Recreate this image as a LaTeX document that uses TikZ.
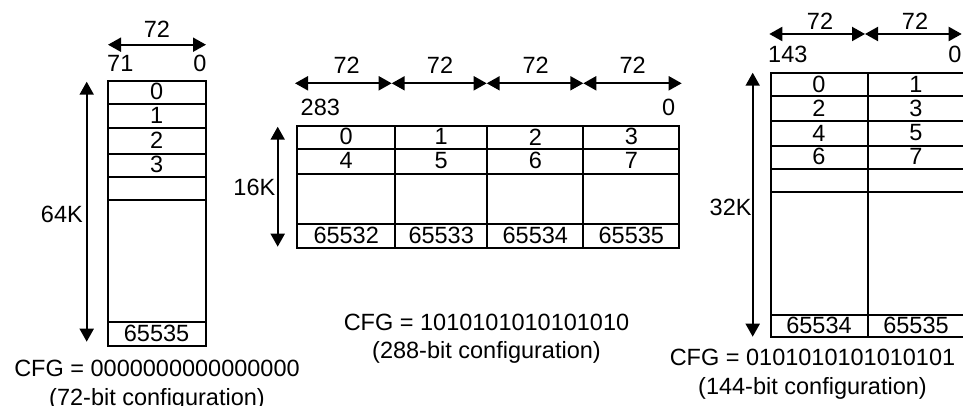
\documentclass[tikz,border=0pt]{standalone}
\usepackage{fontspec}
\setmainfont{Liberation Sans}
\usetikzlibrary{arrows.meta}
\begin{document}
\begin{tikzpicture}[x=1pt,y=-1pt,
  lbl/.style={inner sep=0pt, font=\fontsize{23.5}{28}\selectfont},
  captext/.style={lbl, anchor=base},
  grid/.style={line width=2pt},
  dim/.style={line width=2pt, {Triangle[length=13pt,width=14pt]}-{Triangle[length=13pt,width=14pt]}},
]
\useasboundingbox (0,0) rectangle (963,406);

% ---------------- left table (72-bit) ----------------
\draw[grid] (107.5,80.7) rectangle (205.7,345.7);
\foreach \yy in {103.7,128.3,153.7,176.7,200,322.3}
  \draw[grid] (107.5,\yy) -- (205.7,\yy);
\node[lbl] (l0) at (156.6,91.5) {0};
\node[lbl] (l1) at (156.6,115.5) {1};
\node[lbl] (l2) at (156.6,140.5) {2};
\node[lbl] (l3) at (156.6,164.5) {3};
\node[lbl] (lN) at (156.6,333) {65535};

\coordinate (lhA) at (108,44.7);
\coordinate (lhB) at (206,44.7);
\draw[dim] (lhA) -- (lhB);
\node[lbl] (lw) at (157,29) {72};
\node[lbl,anchor=west] (lmsb) at (107,63.8) {71};
\node[lbl,anchor=east] (llsb) at (206.7,63.8) {0};

\coordinate (lvT) at (86.7,81.7);
\coordinate (lvB) at (86.7,341.7);
\draw[dim] (lvT) -- (lvB);
\node[lbl,anchor=east] (ldepth) at (83,214.7) {64K};

\node[captext] (lcfg) at (157,376.7) {CFG = 0000000000000000};
\node[captext] (lconf) at (157,405) {(72-bit configuration)};

% ---------------- middle table (288-bit) ----------------
\draw[grid] (297.3,126) rectangle (679.3,248.3);
\foreach \xx in {395,487.3,583.3}
  \draw[grid] (\xx,126) -- (\xx,248.3);
\foreach \yy in {149.3,174.3,224}
  \draw[grid] (297.3,\yy) -- (679.3,\yy);
\node[lbl] (m0) at (346.2,136.8) {0};
\node[lbl] (m1) at (441.2,136.8) {1};
\node[lbl] (m2) at (535.3,136.8) {2};
\node[lbl] (m3) at (631.3,136.8) {3};
\node[lbl] (m4) at (346.2,160.5) {4};
\node[lbl] (m5) at (441.2,160.5) {5};
\node[lbl] (m6) at (535.3,160.5) {6};
\node[lbl] (m7) at (631.3,160.5) {7};
\node[lbl] (mA) at (346.2,235) {65532};
\node[lbl] (mB) at (441.2,235) {65533};
\node[lbl] (mC) at (535.3,235) {65534};
\node[lbl] (mD) at (631.3,235) {65535};

\coordinate (mh0) at (295,83.3);
\coordinate (mh1) at (391.7,83.3);
\coordinate (mh2) at (486.7,83.3);
\coordinate (mh3) at (583.3,83.3);
\coordinate (mh4) at (681.7,83.3);
\draw[dim] (mh0) -- (mh1);
\draw[dim] (mh1) -- (mh2);
\draw[dim] (mh2) -- (mh3);
\draw[dim] (mh3) -- (mh4);
\node[lbl] (mw1) at (346.7,65.5) {72};
\node[lbl] (mw2) at (440,65.5) {72};
\node[lbl] (mw3) at (535.7,65.5) {72};
\node[lbl] (mw4) at (632.7,65.5) {72};
\node[lbl,anchor=west] (mmsb) at (300.5,107.5) {283};
\node[lbl,anchor=east] (mlsb) at (675.5,107.5) {0};

\coordinate (mvT) at (277.7,126.7);
\coordinate (mvB) at (277.7,246.7);
\draw[dim] (mvT) -- (mvB);
\node[lbl,anchor=east] (mdepth) at (275.5,187.5) {16K};

\node[captext] (mcfg) at (486.5,330) {CFG = 1010101010101010};
\node[captext] (mconf) at (486.5,358.4) {(288-bit configuration)};

% ---------------- right table (144-bit) ----------------
\draw[grid] (770.7,72.7) rectangle (965,337);
\draw[grid] (867.7,72.7) -- (867.7,337);
\foreach \yy in {96,121,146,169.3,191.7,315}
  \draw[grid] (770.7,\yy) -- (965,\yy);
\node[lbl] (r0) at (819,84.8) {0};
\node[lbl] (r1) at (916,84.8) {1};
\node[lbl] (r2) at (819,108.3) {2};
\node[lbl] (r3) at (916,108.3) {3};
\node[lbl] (r4) at (819,133) {4};
\node[lbl] (r5) at (916,133) {5};
\node[lbl] (r6) at (819,156.8) {6};
\node[lbl] (r7) at (916,156.8) {7};
\node[lbl] (rA) at (819,325.8) {65534};
\node[lbl] (rB) at (916,325.8) {65535};

\coordinate (rh0) at (769.3,34);
\coordinate (rh1) at (865,34);
\coordinate (rh2) at (961.7,34);
\draw[dim] (rh0) -- (rh1);
\draw[dim] (rh1) -- (rh2);
\node[lbl] (rw1) at (820,21.7) {72};
\node[lbl] (rw2) at (915,21.7) {72};
\node[lbl,anchor=west] (rmsb) at (768,54) {143};
\node[lbl,anchor=east] (rlsb) at (961.7,54) {0};

\coordinate (rvT) at (752.7,72.7);
\coordinate (rvB) at (752.7,336.7);
\draw[dim] (rvT) -- (rvB);
\node[lbl,anchor=east] (rdepth) at (751.7,207) {32K};

\node[captext] (rcfg) at (812.5,365.7) {CFG = 0101010101010101};
\node[captext] (rconf) at (812.5,394) {(144-bit configuration)};
\end{tikzpicture}
\end{document}
